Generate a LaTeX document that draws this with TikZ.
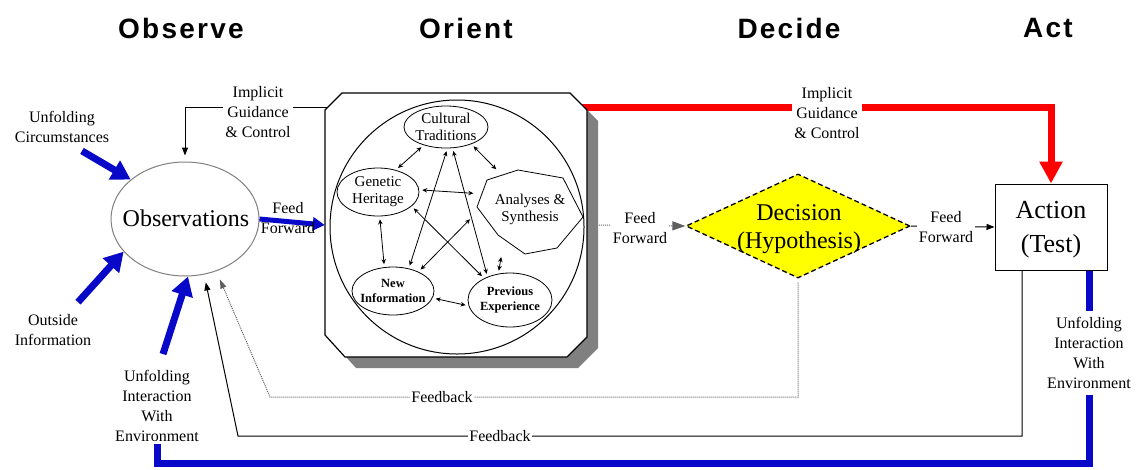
\documentclass[tikz,border=0pt]{standalone}
\usepackage{fontspec}
\setmainfont{Liberation Serif}
\newfontfamily\headfont[LetterSpace=8]{Liberation Sans}
\usetikzlibrary{arrows.meta,shapes.geometric,calc}
\definecolor{oodablue}{RGB}{8,8,200}
\definecolor{oodared}{RGB}{255,0,0}
\definecolor{decyellow}{RGB}{255,255,0}
\definecolor{shadowgray}{RGB}{128,128,128}
\definecolor{dotgray}{RGB}{95,95,95}
\pgfdeclarelayer{back}
\pgfsetlayers{back,main}

\begin{document}
\begin{tikzpicture}[x=1pt,y=-1pt,
  phasehead/.style={font=\headfont\bfseries\fontsize{28}{30}\selectfont, inner sep=0pt},
  lbl/.style={font=\fontsize{16}{20}\selectfont, align=center, inner sep=2pt},
  knockout/.style={fill=white},
  bigtext/.style={font=\fontsize{24}{28}\selectfont, align=center, inner sep=0pt},
  orientell/.style={draw, ellipse, inner sep=0pt, line width=0.8pt},
  orienttext/.style={font=\fontsize{15}{17}\selectfont, align=center, inner sep=0pt},
  orientbold/.style={font=\bfseries\fontsize{12.5}{15}\selectfont, align=center, inner sep=0pt},
  link/.style={draw, line width=0.8pt, {Stealth[length=5pt,width=4.5pt]}-{Stealth[length=5pt,width=4.5pt]}, shorten <=3pt, shorten >=3pt},
  thinarr/.style={draw, line width=1pt, -{Triangle[length=8pt,width=6pt]}},
  bluearr/.style={draw=oodablue, line width=7pt, -{Triangle[length=19pt,width=21pt]}},
  blueline/.style={draw=oodablue, line width=7pt},
  redarr/.style={draw=oodared, line width=7pt, -{Triangle[length=22pt,width=22pt]}},
  dotline/.style={draw=dotgray, densely dotted, line width=1pt},
]
\useasboundingbox (0,0) rectangle (1139,469);

% ---- phase headings ----
\node[phasehead] (ph-obs) at (181,28) {Observe};
\node[phasehead] (ph-ori) at (466,28) {Orient};
\node[phasehead] (ph-dec) at (789,28) {Decide};
\node[phasehead] (ph-act) at (1048,28) {Act};

% ---- Observe ----
\node[draw=gray, line width=1pt, ellipse, minimum width=148pt, minimum height=114pt, inner sep=0pt] (obs) at (185,219) {};
\node[bigtext] (obs-t) at (186,218) {Observations};

\node[lbl] (uc) at (62,127) {Unfolding\\Circumstances};
\node[lbl] (oi) at (53,330) {Outside\\Information};
\node[lbl] (uiw-l) at (157,406) {Unfolding\\Interaction\\With\\Environment};

% ---- Orient: shadowed octagonal frame ----
\fill[shadowgray, shift={(11,11)}] (325,110) -- (342,93) -- (570,93) -- (587,110) -- (587,337) -- (567,357) -- (345,357) -- (325,335) -- cycle;
\draw[fill=white, line width=1.2pt] (325,110) -- (342,93) -- (570,93) -- (587,110) -- (587,337) -- (567,357) -- (345,357) -- (325,335) -- cycle;
\node[minimum width=262pt, minimum height=264pt, inner sep=0pt] (orient) at (456,225) {};
\node[draw, circle, line width=1pt, minimum size=254pt, inner sep=0pt] (orient-circle) at (457,227) {};

\node[orientell, minimum width=84pt, minimum height=42pt] (ct) at (446,127) {};
\node[orienttext] (ct-t) at (ct) {Cultural\\Traditions};
\node[orientell, minimum width=82pt, minimum height=48pt] (gh) at (378,192) {};
\node[orienttext] (gh-t) at (gh) {Genetic\\Heritage};
\node[orientell, minimum width=82pt, minimum height=48pt] (ni) at (393,291) {};
\node[orientbold] (ni-t) at (ni) {New\\Information};
\node[orientell, minimum width=84pt, minimum height=54pt] (pe) at (510,300) {};
\node[orientbold] (pe-t) at (pe) {Previous\\Experience};
\draw[line width=0.8pt] (487,180) -- (518,170) -- (563,178) -- (583,217) -- (557,248) -- (525,254) -- (498,235) -- (477,207) -- cycle;
\node[ellipse, minimum width=116pt, minimum height=96pt, inner sep=0pt] (as) at (530,212) {};
\node[orienttext] (as-t) at (530,209) {Analyses \&\\Synthesis};

\draw[link] (ct.219) -- (gh.51);
\draw[link] (ct.326) -- (as.128);
\draw[link] (gh.3) -- (as.161);
\draw[link] (gh.274) -- (ni.110);
\draw[link] (ni.350) -- (pe.188);
\draw[link] (as.236) -- (pe.114);
\draw[link] (ct.274) -- (ni.55);
\draw[link] (ct.287) -- (pe.134);
\draw[link] (gh.337) -- (pe.140);
\draw[link] (as.185) -- (ni.37);

% ---- Decide ----
\node[diamond, draw, fill=decyellow, dash pattern=on 5pt off 3pt, line width=1.3pt, minimum width=224pt, minimum height=104pt, inner sep=0pt] (dec) at (798,226) {};
\node[bigtext] (dec-t) at (799,229) {Decision\\(Hypothesis)};

% ---- Act ----
\node[draw, line width=1pt, minimum width=112pt, minimum height=86pt, inner sep=0pt] (act) at (1051,227) {};
\node[bigtext, font=\fontsize{26}{34}\selectfont] (act-t) at (1051,230) {Action\\(Test)};

% ---- connectors hidden behind the Orient frame ----
\coordinate (orient-nw) at (329,107);
\coordinate (orient-ne) at (582,107);
\begin{pgfonlayer}{back}
  \draw[thinarr, shorten >=6pt] (orient-nw) -| (obs.north);
  \draw[redarr] (orient-ne) -| (act.north);
  \draw[dotline, -{Triangle[length=13pt,width=9pt]}] (orient.east) -- (dec.west);
\end{pgfonlayer}

% ---- feed forward ----
\draw[draw=oodablue, line width=5pt, -{Triangle[length=12pt,width=13pt]}] (obs.east) -- (orient.west);
\node[lbl] (ff1) at (288,218) {Feed\\Forward};
\node[lbl, knockout] (ff2) at (640,228) {Feed\\Forward};
\draw[thinarr] (dec.east) -- (act.west);
\node[lbl, knockout] (ff3) at (946,227) {Feed\\Forward};

% ---- implicit guidance & control labels ----
\node[lbl, knockout] (igc-l) at (258,112) {Implicit\\Guidance\\\& Control};
\node[lbl, knockout] (igc-r) at (827,113) {Implicit\\Guidance\\\& Control};

% ---- feedback loops ----
\coordinate (fb-dot-l) at (270,397);
\draw[dotline, -{Triangle[length=9pt,width=6pt]}, shorten <=4pt, shorten >=9pt] (dec.south) |- (fb-dot-l) -- (obs.301);
\node[lbl, knockout, inner sep=1pt] (fb-dot) at (442,397) {Feedback};

\coordinate (fb-sol-l) at (238,436);
\draw[thinarr, shorten >=8pt] ([xshift=-29pt]act.south) |- (fb-sol-l) -- (obs.289);
\node[lbl, knockout, inner sep=1pt] (fb-sol) at (500,436) {Feedback};

% ---- outside inputs ----
\draw[bluearr] ([xshift=20pt,yshift=-6pt]uc.south) -- (obs.144);
\draw[bluearr] ([xshift=25pt,yshift=10pt]oi.north) -- (obs.208);
\draw[bluearr] ([xshift=6pt,yshift=14pt]uiw-l.north) -- (obs.273);

\coordinate (blue-bl) at (157,463);
\draw[blueline] ([xshift=38pt]act.south) |- (blue-bl) -- (uiw-l.south);
\node[lbl, knockout, inner sep=6pt] (uiw-r) at (1089,353) {Unfolding\\Interaction\\With\\Environment};
\end{tikzpicture}
\end{document}
